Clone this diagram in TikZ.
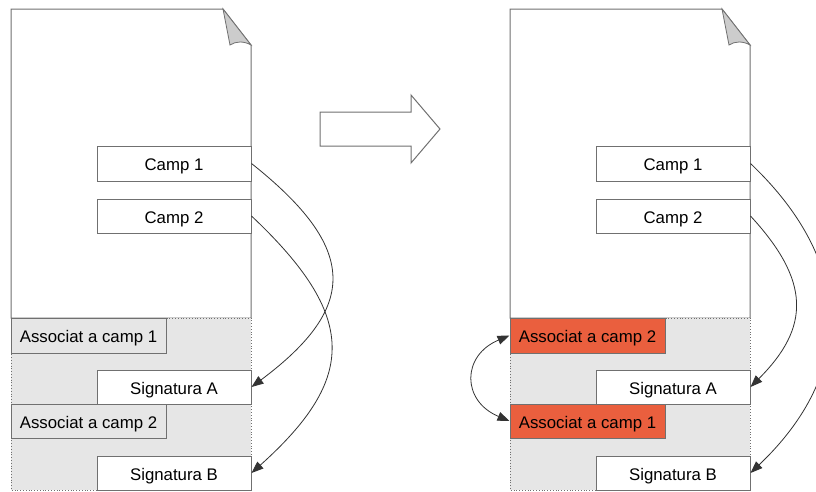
\documentclass[tikz,border=0pt]{standalone}
\usepackage{fontspec}
\setmainfont{Liberation Sans}
\usetikzlibrary{arrows.meta}
\definecolor{edge}{HTML}{707070}
\definecolor{shade}{HTML}{E6E6E6}
\definecolor{fold}{HTML}{CCCCCC}
\definecolor{hot}{HTML}{EA5F3E}
\definecolor{wire}{HTML}{333333}
\tikzset{
  page/.style={draw=edge, fill=white, line width=1pt, line join=miter},
  section/.style={draw=edge, fill=shade, dotted, line width=0.8pt},
  field/.style={draw=edge, fill=white, line width=1pt, rectangle, inner sep=0pt,
    text height=14pt, text depth=0pt,
    font=\fontsize{16.8}{20}\selectfont, text=black},
  tag/.style={field, fill=shade},
  hottag/.style={field, fill=hot},
  link/.style={draw=wire, line width=0.8pt, -{Triangle[length=12pt,width=9pt]}},
  swap/.style={draw=wire, line width=0.8pt, {Triangle[length=12pt,width=9pt]}-{Triangle[length=12pt,width=9pt]}},
}
\begin{document}
\begin{tikzpicture}[x=1pt, y=-1pt]
\useasboundingbox (0,0) rectangle (816,491);
\clip (0,0) rectangle (816,491);

% ---------- left document ----------
\path[page] (11,9) -- (223,9) -- (251,45) -- (251,318) -- (11,318) -- cycle;
\path[draw=edge, fill=fold, line width=0.8pt] (223,9) -- (251,45) .. controls (244,41) and (236,41) .. (230,45) -- cycle;
\path[section] (11,318) rectangle (251,404);
\path[section] (11,404) rectangle (251,490);

\node[field, minimum width=154pt, minimum height=35pt] (Lc1) at (174,163.5) {Camp 1};
\node[field, minimum width=154pt, minimum height=34pt] (Lc2) at (174,216) {Camp 2};
\node[tag, minimum width=155pt, minimum height=35pt] (La1) at (88.5,335.5) {Associat a camp 1};
\node[field, minimum width=154pt, minimum height=34pt] (Lsa) at (174,387) {Signatura A};
\node[tag, minimum width=155pt, minimum height=34pt] (La2) at (88.5,421) {Associat a camp 2};
\node[field, minimum width=154pt, minimum height=34pt] (Lsb) at (174,473) {Signatura B};

\draw[link] (Lc1.east) .. controls +(107,85) and +(107,-80) .. (Lsa.east);
\draw[link] (Lc2.east) .. controls +(106,100) and +(106,-95) .. (Lsb.east);

% ---------- transformation arrow ----------
\path[page] (320,112) -- (411,112) -- (411,95) -- (440,129) -- (411,163) -- (411,146) -- (320,146) -- cycle;

% ---------- right document ----------
\path[page] (510,9) -- (722,9) -- (750,45) -- (750,318) -- (510,318) -- cycle;
\path[draw=edge, fill=fold, line width=0.8pt] (722,9) -- (750,45) .. controls (743,41) and (735,41) .. (729,45) -- cycle;
\path[section] (510,318) rectangle (750,404);
\path[section] (510,404) rectangle (750,490);

\node[field, minimum width=154pt, minimum height=35pt] (Rc1) at (673,163.5) {Camp 1};
\node[field, minimum width=154pt, minimum height=34pt] (Rc2) at (673,216) {Camp 2};
\node[hottag, minimum width=155pt, minimum height=35pt] (Ra2) at (587.5,335.5) {Associat a camp 2};
\node[field, minimum width=154pt, minimum height=34pt] (Rsa) at (673,387) {Signatura A};
\node[hottag, minimum width=155pt, minimum height=34pt] (Ra1) at (587.5,421) {Associat a camp 1};
\node[field, minimum width=154pt, minimum height=34pt] (Rsb) at (673,473) {Signatura B};

\draw[link] (Rc2.east) .. controls +(60,65) and +(60,-60) .. (Rsa.east);
\draw[link] (Rc1.east) .. controls +(105,100) and +(105,-100) .. (Rsb.east);
\draw[swap] (Ra2.west) .. controls +(-48,20) and +(-48,-20) .. (Ra1.west);
\end{tikzpicture}
\end{document}
